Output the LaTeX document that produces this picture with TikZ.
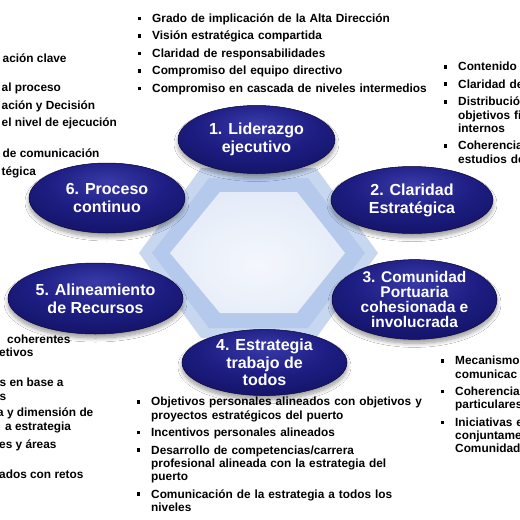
\documentclass[tikz,border=0pt]{standalone}
\usepackage{fontspec}
\setmainfont{Liberation Sans}
\usetikzlibrary{shapes.geometric,shadows.blur}
\definecolor{hexout}{RGB}{200,215,240}
\definecolor{hexmid}{RGB}{180,201,236}
\definecolor{hexin}{RGB}{210,222,243}
\definecolor{hexc}{RGB}{244,247,252}
\definecolor{ellhl}{RGB}{58,58,168}
\definecolor{ellmid}{RGB}{30,30,132}
\definecolor{elldark}{RGB}{14,14,90}
\definecolor{ellrim}{RGB}{8,8,60}
\pgfdeclareradialshading{ellshade}{\pgfpoint{0bp}{12bp}}{color(0bp)=(ellhl); color(18bp)=(ellmid); color(42bp)=(elldark); color(62bp)=(ellrim); color(90bp)=(ellrim)}
\pgfdeclareradialshading{hexshade}{\pgfpoint{0bp}{-5bp}}{color(0bp)=(hexc); color(25bp)=(hexc!60!hexin); color(55bp)=(hexin); color(90bp)=(hexin)}
\newcommand{\bul}{\leavevmode\llap{\rule[2.2pt]{3.6pt}{3.6pt}\hspace{11pt}}}
\tikzset{
  ell/.style={ellipse, draw=ellrim, line width=0.5pt, shading=ellshade, inner sep=0pt,
    text=white, font=\bfseries\fontsize{16}{18}\selectfont, align=center,
    blur shadow={shadow xshift=0pt, shadow yshift=-4pt, shadow blur radius=4pt, shadow blur steps=10, shadow opacity=40}},
  lst/.style={anchor=base west, inner sep=0pt, text width=#1, align=left,
    font=\bfseries\fontsize{11.85}{13.3}\selectfont},
  frag/.style={anchor=base west, inner sep=0pt, font=\bfseries\fontsize{11.85}{13.3}\selectfont},
}
\begin{document}
\begin{tikzpicture}[x=1pt,y=-1pt]
\useasboundingbox (0,0) rectangle (520,520);
\clip (0,0) rectangle (520,520);
\fill[white] (0,0) rectangle (520,520);
% hexagon
\path[fill=hexout] (139,253) -- (201,168) -- (316,168) -- (378,253) -- (316,338) -- (201,338) -- cycle;
\path[fill=hexmid] (152,253) -- (209,178) -- (308,178) -- (365,253) -- (308,328) -- (209,328) -- cycle;
\path[shading=hexshade] (170,253) -- (220,192) -- (297,192) -- (345,253) -- (297,313) -- (220,313) -- cycle;
% ellipses
\node[ell, minimum width=157pt, minimum height=68pt] (e1) at (256.5,139.5) {1. Liderazgo\\ejecutivo};
\node[ell, minimum width=162pt, minimum height=67pt] (e2) at (412,200) {2. Claridad\\Estratégica};
\node[ell, minimum width=165pt, minimum height=75pt, font=\bfseries\fontsize{15.5}{15}\selectfont] (e3) at (414.5,299.5) {3. Comunidad\\Portuaria\\cohesionada e\\involucrada};
\node[ell, minimum width=165pt, minimum height=65pt, font=\bfseries\fontsize{16}{17.5}\selectfont] (e4) at (264.5,362.5) {4. Estrategia\\trabajo de\\todos};
\node[ell, minimum width=175pt, minimum height=71pt] (e5) at (95.5,298.5) {5. Alineamiento\\de Recursos};
\node[ell, minimum width=156pt, minimum height=70pt] (e6) at (107,198) {6. Proceso\\continuo};
% lists
\node[lst=330pt] (l1) at (152,22.3) {\bul Grado de implicación de la Alta Dirección\\[4.2pt]
\bul Visión estratégica compartida\\[4.2pt]
\bul Claridad de responsabilidades\\[4.2pt]
\bul Compromiso del equipo directivo\\[4.2pt]
\bul Compromiso en cascada de niveles intermedios};
\node[lst=150pt] (l2) at (458,70.7) {\bul Contenido\\[4.2pt]
\bul Claridad de\\[4.2pt]
\bul Distribució\\objetivos fi\\internos\\[4.2pt]
\bul Coherencia\\estudios de};
\node[lst=330pt] (l4) at (151,405.7) {\bul Objetivos personales alineados con objetivos y\\proyectos estratégicos del puerto\\[4.2pt]
\bul Incentivos personales alineados\\[4.2pt]
\bul Desarrollo de competencias/carrera\\profesional alineada con la estrategia del\\puerto\\[4.2pt]
\bul Comunicación de la estrategia a todos los\\niveles};
\node[lst=150pt] (l3) at (455,364.7) {\bul Mecanismo\\comunicac\\[4.2pt]
\bul Coherencia\\particulares\\[4.2pt]
\bul Iniciativas e\\conjuntame\\Comunidad};
% left fragments (top)
\node[frag] (f1) at (2.5,62.3) {ación clave};
\node[frag] (f2) at (1.5,91.7) {al proceso};
\node[frag] (f3) at (1.5,109.3) {ación y Decisión};
\node[frag] (f4) at (1.5,126.7) {el nivel de ejecución};
\node[frag] (f5) at (2.5,157.3) {de comunicación};
\node[frag] (f6) at (1.5,175) {tégica};
% left fragments (bottom)
\node[frag] (g1) at (7,343.3) {coherentes};
\node[frag] (g2) at (-1,356.3) {etivos};
\node[frag] (g3) at (-0.5,386.7) {s en base a};
\node[frag] (g4) at (-0.5,400) {s};
\node[frag] (g5) at (-3,416.7) {a y dimensión de};
\node[frag] (g6) at (5,430.5) {a estrategia};
\node[frag] (g7) at (-1,448.3) {es y áreas};
\node[frag] (g8) at (-1,478.3) {ados con retos};
\end{tikzpicture}
\end{document}
